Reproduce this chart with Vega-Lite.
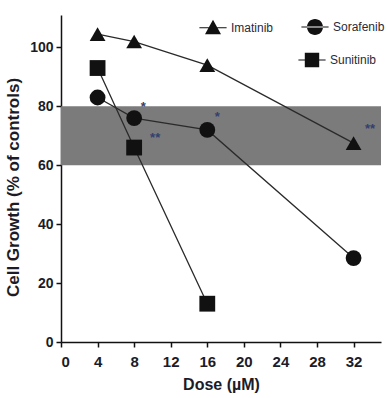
{
  "$schema": "https://vega.github.io/schema/vega-lite/v6.json",
  "width": 320,
  "height": 327,
  "autosize": {"type": "none"},
  "padding": {"left": 61, "top": 15, "right": 7, "bottom": 56},
  "background": "white",
  "config": {"view": {"stroke": null}, "font": "Liberation Sans"},
  "datasets": {
    "growth": [
      {"drug": "Imatinib", "dose": 4, "growth": 104.5},
      {"drug": "Imatinib", "dose": 8, "growth": 102},
      {"drug": "Imatinib", "dose": 16, "growth": 94},
      {"drug": "Imatinib", "dose": 32, "growth": 67.5},
      {"drug": "Sorafenib", "dose": 4, "growth": 83},
      {"drug": "Sorafenib", "dose": 8, "growth": 76},
      {"drug": "Sorafenib", "dose": 16, "growth": 72},
      {"drug": "Sorafenib", "dose": 32, "growth": 28.5},
      {"drug": "Sunitinib", "dose": 4, "growth": 93},
      {"drug": "Sunitinib", "dose": 8, "growth": 66},
      {"drug": "Sunitinib", "dose": 16, "growth": 13}
    ],
    "stars": [
      {"dose": 9.0, "growth": 79.8, "label": "*"},
      {"dose": 17.1, "growth": 76.5, "label": "*"},
      {"dose": 10.3, "growth": 69.3, "label": "**"},
      {"dose": 33.8, "growth": 72.4, "label": "**"}
    ]
  },
  "layer": [
    {
      "data": {"values": [{"low": 60, "high": 80}]},
      "mark": {"type": "rect", "color": "#7b7b7b"},
      "encoding": {
        "x": {"datum": 0, "type": "quantitative"},
        "x2": {"datum": 35},
        "y": {"field": "low", "type": "quantitative"},
        "y2": {"field": "high"}
      }
    },
    {
      "data": {"name": "growth"},
      "mark": {"type": "line", "color": "#2a2a2a", "strokeWidth": 1.3},
      "encoding": {
        "x": {
          "field": "dose", "type": "quantitative",
          "scale": {"domain": [0, 35], "nice": false, "zero": false},
          "axis": {
            "title": "Dose (µM)", "values": [0, 4, 8, 12, 16, 20, 24, 28, 32],
            "tickCount": 20, "labelOverlap": false,
            "grid": false, "domainColor": "#111", "domainWidth": 1.5,
            "tickColor": "#111", "tickWidth": 1.5, "tickSize": 5,
            "labelFont": "Liberation Sans", "labelFontWeight": "bold", "labelFontSize": 15,
            "labelColor": "#1c1c28", "labelPadding": 7,
            "titleFont": "Liberation Sans", "titleFontWeight": "bold", "titleFontSize": 16,
            "titleColor": "#1c1c28", "titlePadding": 7
          }
        },
        "y": {
          "field": "growth", "type": "quantitative",
          "scale": {"domain": [0, 111], "nice": false},
          "axis": {
            "title": "Cell Growth (% of controls)", "values": [0, 20, 40, 60, 80, 100],
            "tickCount": 20, "labelOverlap": false,
            "grid": false, "domainColor": "#111", "domainWidth": 1.5,
            "tickColor": "#111", "tickWidth": 1.5, "tickSize": 5,
            "labelFont": "Liberation Sans", "labelFontWeight": "bold", "labelFontSize": 14,
            "labelColor": "#1c1c28", "labelPadding": 3,
            "titleFont": "Liberation Sans", "titleFontWeight": "bold", "titleFontSize": 17,
            "titleColor": "#1c1c28", "titlePadding": 7, "titleY": 172
          }
        },
        "detail": {"field": "drug"}
      }
    },
    {
      "data": {"name": "growth"},
      "mark": {"type": "point", "filled": true, "color": "#111", "opacity": 1, "size": 250},
      "encoding": {
        "x": {"field": "dose", "type": "quantitative"},
        "y": {"field": "growth", "type": "quantitative"},
        "shape": {
          "field": "drug", "type": "nominal",
          "scale": {"domain": ["Imatinib", "Sorafenib", "Sunitinib"], "range": ["triangle-up", "circle", "square"]},
          "legend": null
        }
      }
    },
    {
      "data": {"name": "growth"},
      "transform": [{"filter": "datum.drug !== 'Sunitinib'"}],
      "mark": {"type": "point", "filled": true, "color": "#111", "opacity": 0, "size": 256},
      "encoding": {
        "x": {"field": "dose", "type": "quantitative"},
        "y": {"field": "growth", "type": "quantitative"},
        "shape": {
          "field": "drug", "type": "nominal",
          "scale": {"domain": ["Imatinib", "Sorafenib"], "range": [
            "M0,-1L1,0.8L-1,0.8ZM-1.7,-0.07H1.7V0.07H-1.7Z",
            "M-1,0A1,1,0,1,0,1,0A1,1,0,1,0,-1,0ZM-1.7,-0.07H1.7V0.07H-1.7Z"
          ]},
          "legend": {
            "title": null, "orient": "none", "legendX": 144, "legendY": 4,
            "columns": 2, "columnPadding": 27, "padding": 0,
            "symbolOpacity": 1, "symbolFillColor": "#111", "symbolStrokeColor": "#111",
            "symbolStrokeWidth": 0, "symbolSize": 256, "labelOffset": 10,
            "labelFont": "Liberation Sans", "labelFontSize": 12, "labelColor": "#2a2a3a"
          }
        }
      }
    },
    {
      "data": {"name": "growth"},
      "transform": [{"filter": "datum.drug === 'Sunitinib'"}],
      "mark": {"type": "point", "filled": true, "color": "#111", "opacity": 0, "size": 256},
      "encoding": {
        "x": {"field": "dose", "type": "quantitative"},
        "y": {"field": "growth", "type": "quantitative"},
        "shape": {
          "field": "drug", "type": "nominal",
          "scale": {"domain": ["Sunitinib"], "range": ["M-0.9,-0.9H0.9V0.9H-0.9ZM-1.7,-0.07H1.7V0.07H-1.7Z"]},
          "legend": {
            "title": null, "orient": "none", "legendX": 243, "legendY": 37, "padding": 0,
            "symbolOpacity": 1, "symbolFillColor": "#111", "symbolStrokeColor": "#111",
            "symbolStrokeWidth": 0, "symbolSize": 256, "labelOffset": 10,
            "labelFont": "Liberation Sans", "labelFontSize": 12, "labelColor": "#2a2a3a"
          }
        }
      }
    },
    {
      "data": {"name": "stars"},
      "mark": {"type": "text", "fontSize": 13, "fontWeight": "bold", "color": "#34406e", "align": "center", "baseline": "middle"},
      "encoding": {
        "x": {"field": "dose", "type": "quantitative"},
        "y": {"field": "growth", "type": "quantitative"},
        "text": {"field": "label"}
      }
    }
  ],
  "resolve": {"scale": {"shape": "independent"}, "legend": {"shape": "independent"}}
}
